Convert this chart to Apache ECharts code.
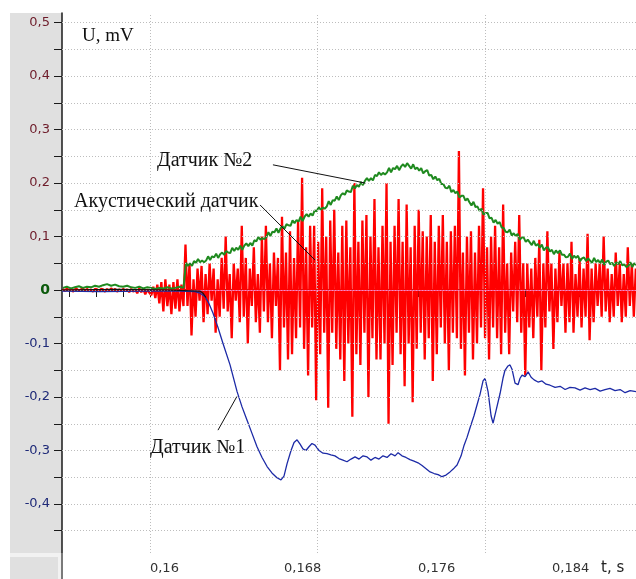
<!DOCTYPE html>
<html>
<head>
<meta charset="utf-8">
<script src="https://cdn.jsdelivr.net/npm/echarts@6/dist/echarts.min.js"></script>
<style>
  html, body { margin: 0; padding: 0; background: #fff; }
  #main { width: 636px; height: 579px; }
</style>
</head>
<body>
<div id="main"></div>
<script>
// time axis, s
var tMin = 0.15475, tMax = 0.18901;
var uMin = -0.4916, uMax = 0.5178;

var xTicks = [0.1552, 0.1568, 0.1584, 0.16, 0.1616, 0.1632, 0.1648, 0.1664, 0.168, 0.1696, 0.1712,
  0.1728, 0.1744, 0.176, 0.1776, 0.1792, 0.1808, 0.1824, 0.184, 0.1856, 0.1872, 0.1888];
var xLabels = [0.16, 0.168, 0.176, 0.184];
var yTicks = [-0.45, -0.4, -0.35, -0.3, -0.25, -0.2, -0.15, -0.1, -0.05, 0, 0.05, 0.1, 0.15,
  0.2, 0.25, 0.3, 0.35, 0.4, 0.45, 0.5];
var yLabels = [-0.4, -0.3, -0.2, -0.1, 0, 0.1, 0.2, 0.3, 0.4, 0.5];

// акустический датчик: sampled every 0.12 ms from 0.1548 s
var acT0 = 0.1548, acDt = 0.00012;
var acoustic = [
  0.002,-0.002,0.003,-0.001,0.002,-0.003,0.001,0.002,-0.002,0.001,
  0.003,-0.002,0.002,-0.001,0.001,-0.003,0.002,0.001,-0.002,0.002,
  0.001,-0.003,0.002,-0.002,0.003,-0.001,0.002,-0.003,0.001,-0.002,
  0.002,-0.001,0.001,-0.004,0.002,-0.003,0.001,-0.006,0.003,-0.004,
  0.002,-0.008,0.001,-0.005,
  -0.01,0.006,-0.015,0.01,-0.025,0.015,-0.04,0.02,-0.03,0.01,-0.045,0.015,-0.035,0.02,-0.04,0.01,-0.03,
  0.085,-0.03,0.05,-0.085,0.02,-0.05,0.04,-0.02,0.045,-0.06,
  0.03,-0.045,0.05,-0.02,0.04,-0.08,0.02,-0.05,0.06,-0.035,
  0.1,-0.04,0.03,-0.09,0.05,-0.02,0.04,-0.06,0.12,-0.05,
  0.06,-0.1,0.04,-0.03,0.08,-0.06,0.03,-0.08,0.1,-0.04,
  0.12,-0.06,0.05,-0.09,0.07,-0.03,0.06,-0.15,0.137,-0.07,
  0.07,-0.13,0.11,-0.12,0.06,-0.09,0.13,-0.07,0.21,-0.11,
  0.08,-0.16,0.12,-0.07,0.12,-0.206,0.09,-0.12,0.19,-0.08,
  0.1,-0.22,0.13,-0.08,0.15,-0.11,0.07,-0.13,0.12,-0.17,
  0.13,-0.1,0.08,-0.237,0.2,-0.12,0.09,-0.14,0.13,-0.08,
  0.14,-0.2,0.1,-0.09,0.17,-0.13,0.08,-0.13,0.12,-0.1,
  0.2,-0.25,0.09,-0.14,0.12,-0.08,0.17,-0.12,0.09,-0.18,
  0.16,-0.1,0.08,-0.21,0.12,-0.11,0.15,-0.08,0.11,-0.13,
  0.1,-0.09,0.14,-0.17,0.09,-0.12,0.12,-0.07,0.14,-0.1,
  0.09,-0.15,0.11,-0.08,0.12,-0.09,0.26,-0.11,0.07,-0.16,
  0.1,-0.08,0.11,-0.13,0.07,-0.1,0.12,-0.07,0.19,-0.09,
  0.08,-0.13,0.1,-0.07,0.12,-0.09,0.08,-0.12,0.16,-0.08,
  0.05,-0.12,0.07,-0.04,0.09,-0.06,0.14,-0.08,0.05,-0.16,
  0.05,-0.07,0.04,-0.09,0.06,-0.05,0.094,-0.15,0.05,-0.07,
  0.11,-0.04,0.05,-0.11,0.04,-0.06,0.07,-0.03,0.05,-0.08,
  0.05,-0.06,0.09,-0.08,0.03,-0.05,0.06,-0.07,0.04,-0.05,
  0.105,-0.094,0.04,-0.06,0.05,-0.03,0.05,-0.05,0.1,-0.04,
  0.04,-0.06,0.03,-0.05,0.07,-0.03,0.05,-0.06,0.03,-0.05,
  0.08,-0.03,0.05,-0.05,0.04
];

// датчик №2: before the step every 0.24 ms, after it every 0.12 ms
var s2PreT0 = 0.1548, s2PreDt = 0.00024;
var sensor2Pre = [
  0.004,0.006,0.003,0.005,0.007,0.004,0.006,0.005,0.008,0.006,
  0.009,0.011,0.008,0.01,0.007,0.006,0.008,0.005,0.004,0.006,
  0.003,0.005,0.004,0.002,0.004,0.003,0.005,0.003,0.004,0.006,
  0.004
];
var s2T0 = 0.16215, s2Dt = 0.00012;
var sensor2 = [
  0.051,0.045,0.05,0.045,0.054,0.051,0.058,0.052,0.055,0.052,
  0.055,0.063,0.056,0.063,0.061,0.068,0.06,0.067,0.07,0.066,
  0.073,0.07,0.069,0.079,0.073,0.079,0.075,0.083,0.075,0.083,
  0.087,0.082,0.088,0.083,0.093,0.091,0.099,0.094,0.097,0.095,
  0.099,0.108,0.101,0.109,0.108,0.115,0.107,0.115,0.119,0.115,
  0.123,0.121,0.12,0.13,0.125,0.131,0.128,0.137,0.129,0.137,
  0.142,0.137,0.143,0.139,0.149,0.147,0.155,0.15,0.154,0.152,
  0.156,0.166,0.159,0.168,0.167,0.175,0.168,0.177,0.181,0.178,
  0.186,0.184,0.183,0.195,0.19,0.196,0.193,0.202,0.196,0.204,
  0.209,0.204,0.209,0.205,0.215,0.213,0.22,0.215,0.219,0.216,
  0.22,0.228,0.22,0.228,0.226,0.232,0.224,0.231,0.235,0.23,
  0.237,0.232,0.227,0.235,0.226,0.229,0.223,0.228,0.218,0.222,
  0.224,0.214,0.215,0.207,0.212,0.205,0.208,0.198,0.198,0.191,
  0.19,0.195,0.183,0.187,0.181,0.184,0.173,0.176,0.176,0.167,
  0.171,0.164,0.158,0.165,0.155,0.156,0.148,0.152,0.141,0.144,
  0.144,0.134,0.135,0.126,0.131,0.124,0.127,0.117,0.116,0.109,
  0.108,0.113,0.102,0.106,0.101,0.105,0.094,0.098,0.098,0.09,
  0.094,0.089,0.084,0.092,0.083,0.086,0.079,0.085,0.074,0.079,
  0.08,0.072,0.075,0.067,0.074,0.069,0.074,0.066,0.066,0.061,
  0.062,0.068,0.058,0.064,0.06,0.064,0.054,0.059,0.061,0.054,
  0.059,0.055,0.051,0.06,0.052,0.056,0.05,0.057,0.047,0.053,
  0.055,0.048,0.051,0.045,0.052,0.048,0.054,0.046,0.048,0.043,
  0.045,0.052,0.043,0.05,0.047,0.052
];

// датчик №1
var s1Time = [0.15475,0.15701,0.16,0.16179,0.16269,0.16299,0.16328,0.16352,0.16376,0.16406,
  0.16436,0.16478,0.1652,0.16549,0.16579,0.16609,0.16639,0.16669,0.16699,0.16728,
  0.16758,0.16782,0.168,0.16818,0.16842,0.1686,0.16878,0.16896,0.16913,0.16931,
  0.16949,0.16967,0.16985,0.17009,0.17033,0.17057,0.1708,0.17104,0.17128,0.17152,
  0.17176,0.172,0.17224,0.17248,0.17272,0.17296,0.17319,0.17343,0.17367,0.17391,
  0.17415,0.17439,0.17463,0.17481,0.17504,0.17528,0.17552,0.17576,0.176,0.17624,
  0.17648,0.17672,0.17696,0.1772,0.17743,0.17767,0.17791,0.17815,0.17833,0.17857,
  0.17875,0.17893,0.1791,0.17934,0.17952,0.1797,0.17988,0.18,0.18018,0.18036,
  0.18048,0.18066,0.1809,0.18107,0.18119,0.18137,0.18149,0.18161,0.18179,0.18197,
  0.18209,0.18221,0.18239,0.18257,0.18275,0.18293,0.18316,0.1834,0.18364,0.18388,
  0.18418,0.18448,0.18478,0.18507,0.18537,0.18567,0.18597,0.18627,0.18657,0.18687,
  0.18716,0.18746,0.18776,0.18806,0.18836,0.18866,0.18901];
var s1Volt = [-0.002,-0.003,-0.002,-0.002,-0.003,-0.006,-0.012,-0.025,-0.043,-0.07,
  -0.1,-0.14,-0.19,-0.218,-0.243,-0.268,-0.293,-0.313,-0.33,-0.342,
  -0.351,-0.355,-0.348,-0.325,-0.3,-0.285,-0.28,-0.288,-0.297,-0.3,
  -0.293,-0.287,-0.29,-0.3,-0.305,-0.306,-0.308,-0.31,-0.315,-0.318,
  -0.321,-0.316,-0.312,-0.316,-0.31,-0.312,-0.318,-0.313,-0.316,-0.31,
  -0.313,-0.306,-0.31,-0.304,-0.31,-0.313,-0.317,-0.32,-0.323,-0.328,
  -0.334,-0.34,-0.343,-0.345,-0.349,-0.346,-0.34,-0.333,-0.327,-0.31,
  -0.29,-0.275,-0.258,-0.235,-0.215,-0.195,-0.17,-0.165,-0.19,-0.235,
  -0.249,-0.225,-0.193,-0.165,-0.15,-0.142,-0.14,-0.148,-0.174,-0.177,
  -0.165,-0.159,-0.162,-0.153,-0.163,-0.168,-0.172,-0.17,-0.176,-0.178,
  -0.182,-0.18,-0.186,-0.182,-0.183,-0.187,-0.183,-0.186,-0.184,-0.189,
  -0.186,-0.184,-0.188,-0.186,-0.192,-0.188,-0.19];

// black trace on the zero line
var baseTime = [0.15475, 0.158, 0.161, 0.16299, 0.163164, 0.163343];
var baseVolt = [0, 0.001, 0, -0.002, -0.006, -0.014];

function sampled(t0, dt, vals) {
  return vals.map(function (v, i) { return [t0 + i * dt, v]; });
}
function paired(ts, vs) {
  return ts.map(function (t, i) { return [t, vs[i]]; });
}
function comma(v) {
  return String(v).replace('.', ',');
}

var chart = echarts.init(document.getElementById('main'));

var option = {
  animation: false,
  backgroundColor: '#fff',
  grid: { left: 62, top: 13, right: 0, bottom: 26, containLabel: false },
  xAxis: {
    type: 'value', min: tMin, max: tMax,
    axisLine: { lineStyle: { color: '#1a1a1a', width: 1.5 } },
    axisTick: { customValues: xTicks, length: 7, lineStyle: { color: '#1a1a1a' } },
    axisLabel: {
      customValues: xLabels, align: 'left', margin: 9,
      fontFamily: 'DejaVu Sans', fontSize: 13, color: '#333',
      formatter: function (v) { return comma(v); }
    },
    splitLine: { show: false }
  },
  yAxis: {
    type: 'value', min: uMin, max: uMax,
    axisLine: { lineStyle: { color: '#1a1a1a', width: 1.5 } },
    axisTick: { customValues: yTicks, length: 8, lineStyle: { color: '#1a1a1a' } },
    axisLabel: {
      customValues: yLabels, margin: 12,
      fontFamily: 'DejaVu Sans', fontSize: 13,
      formatter: function (v) {
        var r = Math.round(v * 10) / 10;
        if (r === 0) return '{z|0}';
        return (r > 0 ? '{p|' : '{n|') + comma(r) + '}';
      },
      rich: {
        z: { color: '#0b5a0b', fontWeight: 'bold', fontSize: 14, fontFamily: 'DejaVu Sans' },
        p: { color: '#6e1c2a', fontSize: 13, fontFamily: 'DejaVu Sans' },
        n: { color: '#1f2a78', fontSize: 13, fontFamily: 'DejaVu Sans' }
      }
    },
    splitLine: { show: false }
  },
  series: [
    {
      // dotted grid
      type: 'line', z: 1, data: [[tMin, 0]], symbol: 'none',
      lineStyle: { opacity: 0 }, silent: true,
      markLine: {
        silent: true, symbol: 'none', label: { show: false },
        lineStyle: { color: '#bdbdbd', type: [1, 2], width: 1 },
        data: xTicks.map(function (v) { return { xAxis: v }; })
          .concat(yTicks.map(function (v) { return { yAxis: v }; }))
      }
    },
    {
      name: 'Акустический датчик', type: 'line', z: 2,
      data: sampled(acT0, acDt, acoustic), symbol: 'none',
      lineStyle: { color: '#ff0000', width: 2.3 },
      markLine: {
        silent: true, symbol: 'none', label: { show: false },
        lineStyle: { color: '#ff80cc', type: 'solid', width: 1, opacity: 0.7 },
        data: [[{ coord: [0.16215, 0] }, { coord: [tMax, 0] }]]
      }
    },
    {
      name: 'Датчик №2', type: 'line', z: 3,
      data: sampled(s2PreT0, s2PreDt, sensor2Pre).concat(sampled(s2T0, s2Dt, sensor2)),
      symbol: 'none',
      lineStyle: { color: '#1f8a1f', width: 2 }
    },
    {
      name: 'Датчик №1', type: 'line', z: 4,
      data: paired(s1Time, s1Volt), symbol: 'none',
      lineStyle: { color: '#1c2aa6', width: 1.3 }
    },
    {
      type: 'line', z: 5,
      data: paired(baseTime, baseVolt), symbol: 'none',
      lineStyle: { color: '#111', width: 1.2 },
      markLine: {
        silent: true, symbol: 'none', label: { show: false },
        lineStyle: { color: '#111', type: 'solid', width: 1 },
        data: [
          [{ coord: [0.16734, 0.234] }, { coord: [0.17284, 0.2] }],
          [{ coord: [0.16657, 0.159] }, { coord: [0.16985, 0.056] }],
          [{ coord: [0.16406, -0.262] }, { coord: [0.16519, -0.199] }]
        ]
      }
    }
  ],
  graphic: [
    { type: 'rect', z: -10, shape: { x: 10, y: 13, width: 52, height: 540 }, style: { fill: '#e0e0e0' } },
    { type: 'rect', z: -10, shape: { x: 10, y: 553, width: 52, height: 26 }, style: { fill: '#f2f2f2' } },
    { type: 'rect', z: -9, shape: { x: 10, y: 557, width: 48, height: 22 }, style: { fill: '#e0e0e0' } },
    { type: 'line', z: 10, shape: { x1: 62, y1: 553, x2: 62, y2: 579 }, style: { stroke: '#7a7a7a', lineWidth: 2 } },
    { type: 'text', z: 20, style: { text: 'U, mV', x: 82, y: 36, font: '19px "Liberation Serif"', fill: '#111', textVerticalAlign: 'middle' } },
    { type: 'text', z: 20, style: { text: 'Датчик №2', x: 157, y: 161, font: '20px "Liberation Serif"', fill: '#111', textVerticalAlign: 'middle' } },
    { type: 'text', z: 20, style: { text: 'Акустический датчик', x: 74, y: 202, font: '20px "Liberation Serif"', fill: '#111', textVerticalAlign: 'middle' } },
    { type: 'text', z: 20, style: { text: 'Датчик №1', x: 150, y: 448, font: '20px "Liberation Serif"', fill: '#111', textVerticalAlign: 'middle' } },
    { type: 'text', z: 20, style: { text: 't, s', x: 601, y: 568, font: '15px "DejaVu Sans"', fill: '#222', textVerticalAlign: 'middle' } }
  ]
};

chart.setOption(option);
</script>
</body>
</html>
